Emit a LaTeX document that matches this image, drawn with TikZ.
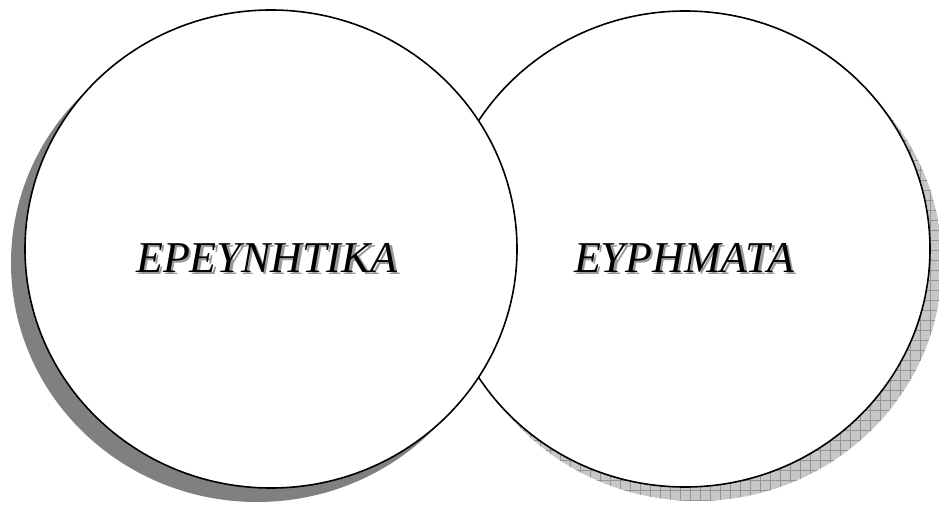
\documentclass[tikz,border=0pt]{standalone}
\usepackage{fontspec}
\setmainfont{Liberation Serif}
\newcommand{\shadowtext}[1]{\makebox[0pt][l]{\hspace{2.5pt}\raisebox{-2.5pt}{\textcolor{black!40}{#1}}}#1}
\begin{document}
\begin{tikzpicture}[x=1pt,y=-1pt,
  circ/.style={draw=black,line width=1.6pt,fill=white},
  lbl/.style={font=\itshape\fontsize{44}{44}\selectfont,text=black,inner sep=0pt}]
\useasboundingbox (0,0) rectangle (939,506);
% right ellipse shadow with grid
\begin{scope}
  \clip (697,263) ellipse [x radius=245, y radius=238];
  \fill[black!22] (440,0) rectangle (939,506);
  \foreach \gx in {440,450,...,940} \draw[black!42,line width=0.6pt] (\gx,0) -- (\gx,506);
  \foreach \gy in {0,10,...,510} \draw[black!42,line width=0.6pt] (440,\gy) -- (939,\gy);
\end{scope}
\draw[circ] (685,249) ellipse [x radius=245, y radius=238];
% left ellipse shadow
\fill[black!50] (257,263) ellipse [x radius=246, y radius=239];
\draw[circ] (271,249) ellipse [x radius=246, y radius=239];
% labels
\node[lbl] (l) at (267,259) {\shadowtext{ΕΡΕΥΝΗΤΙΚΑ}};
\node[lbl] (r) at (684,259) {\shadowtext{ΕΥΡΗΜΑΤΑ}};
\end{tikzpicture}
\end{document}
